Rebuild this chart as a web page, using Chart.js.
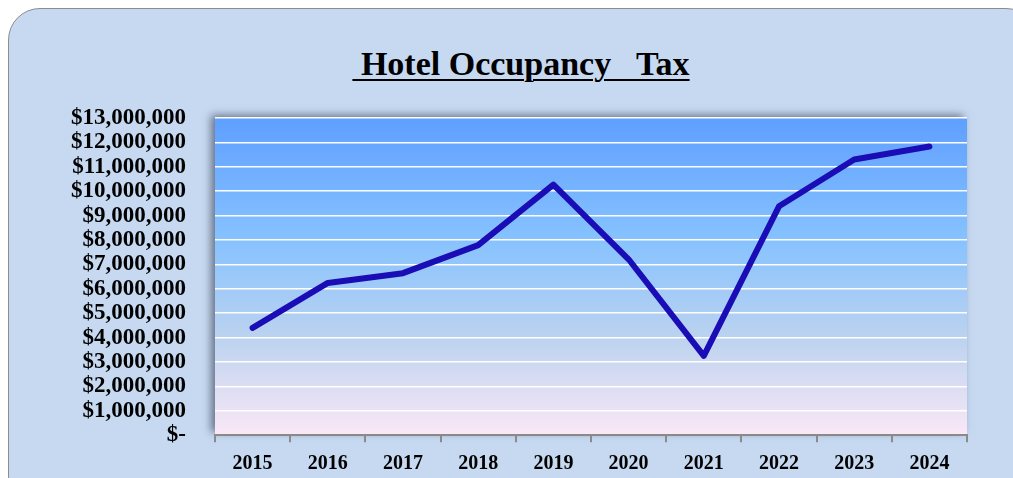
<!DOCTYPE html>
<html>
<head>
<meta charset="utf-8">
<script src="https://cdn.jsdelivr.net/npm/chart.js@4"></script>
<style>
  html, body { margin: 0; padding: 0; background: #ffffff; }
  #wrap { position: relative; width: 1013px; height: 478px; overflow: hidden; }
  #panel {
    position: absolute; left: 8px; top: 8px; width: 1030px; height: 500px;
    background: #c6d9f1; border: 1.5px solid #8c8c8c; border-radius: 32px;
    box-sizing: border-box;
  }
  #title {
    position: absolute; left: 0; width: 1042px; top: 45px; text-align: center;
    font-family: "Liberation Serif", serif; font-weight: bold; font-size: 34px;
    white-space: pre; color: #000;
  }
  #title span { text-decoration: underline; text-decoration-thickness: 2px; text-underline-offset: 4px; }
  canvas { position: absolute; left: 0; top: 0; }
</style>
</head>
<body>
<div id="wrap">
  <div id="panel"></div>
  <div id="title"><span> Hotel Occupancy   Tax</span></div>
  <canvas id="chart" width="1013" height="478"></canvas>
</div>
<script>
const years = ['2015', '2016', '2017', '2018', '2019', '2020', '2021', '2022', '2023', '2024']
const taxValues = [4400000, 6240000, 6640000, 7790000, 10270000, 7210000, 3250000, 9380000, 11300000, 11830000]
const yMax = 13000000
const yStep = 1000000

// fill the plot area with the shaded gradient before anything else
const plotBackground = {
    id: 'plotBackground',
    beforeDraw(chart) {
        const {ctx, chartArea: a} = chart
        ctx.save()
        ctx.shadowColor = 'rgba(40, 50, 70, 0.6)'
        ctx.shadowBlur = 8
        ctx.shadowOffsetX = -4
        ctx.shadowOffsetY = -3
        const g = ctx.createLinearGradient(0, a.top, 0, a.bottom)
        g.addColorStop(0, '#5f9fff')
        g.addColorStop(0.38, '#86c2ff')
        g.addColorStop(0.7, '#bdd3ef')
        g.addColorStop(1, '#fbe8f7')
        ctx.fillStyle = g
        ctx.fillRect(a.left, a.top, a.right - a.left, a.bottom - a.top)
        ctx.restore()
    }
}

function money(v) {
    if (v === 0) return '$-'
    return '$' + v.toLocaleString('en-US')
}

new Chart(document.getElementById('chart'), {
    type: 'line',
    data: {
        labels: years,
        datasets: [{
            label: 'Hotel Occupancy Tax',
            data: taxValues,
            borderColor: '#1a0db5',
            borderWidth: 6,
            borderCapStyle: 'round',
            borderJoinStyle: 'round',
            pointRadius: 0,
            tension: 0
        }]
    },
    options: {
        responsive: false,
        animation: false,
        layout: { padding: { top: 118, right: 46, bottom: 0, left: 0 } },
        plugins: {
            legend: { display: false },
            tooltip: { enabled: false }
        },
        scales: {
            x: {
                offset: true,
                afterFit(axis) { axis.height = 41 },
                grid: {
                    offset: true,
                    drawOnChartArea: false,
                    color: '#8a8a8a',
                    lineWidth: 2,
                    tickLength: 7
                },
                border: { color: '#8a8a8a', width: 2 },
                ticks: {
                    color: '#000',
                    padding: 10,
                    font: { family: '"Liberation Serif", serif', weight: 'bold', size: 20 }
                }
            },
            y: {
                min: 0,
                max: yMax,
                afterFit(axis) { axis.width = 215 },
                grid: { color: '#ffffff', lineWidth: 1.5, drawTicks: false },
                border: { display: false },
                ticks: {
                    stepSize: yStep,
                    autoSkip: false,
                    color: '#000',
                    padding: 29,
                    callback: v => money(v),
                    font: { family: '"Liberation Serif", serif', weight: 'bold', size: 23 }
                }
            }
        }
    },
    plugins: [plotBackground]
})
</script>
</body>
</html>
